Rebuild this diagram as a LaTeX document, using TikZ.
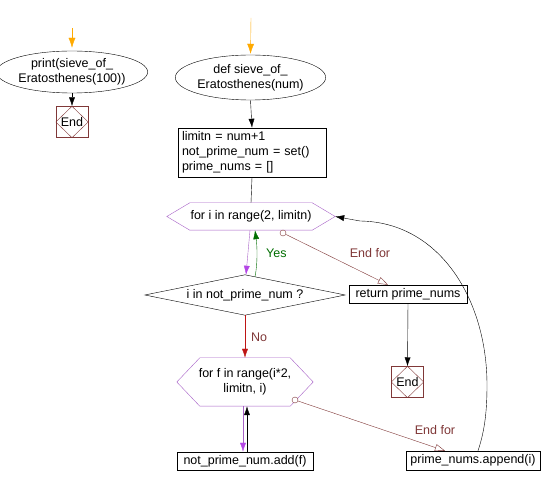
\documentclass[tikz,border=0pt]{standalone}
\usepackage{fontspec}
\setmainfont{Liberation Sans}
\usetikzlibrary{arrows.meta,shapes.geometric}
\definecolor{hexcol}{RGB}{168,98,200}
\definecolor{purparrow}{RGB}{180,70,230}
\definecolor{browncol}{RGB}{128,56,56}
\definecolor{nocol}{RGB}{190,20,20}
\definecolor{greencol}{RGB}{0,110,0}
\definecolor{orangecol}{RGB}{255,170,0}
\begin{document}
\begin{tikzpicture}[x=1pt,y=-1pt,
  txt/.style={font=\fontsize{12.5}{15}\selectfont, text=black},
  stmt/.style={draw=black, rectangle, inner sep=0pt, txt},
  oval/.style={draw=black, ellipse, inner sep=0pt, txt, align=center},
  hexnode/.style={rectangle, inner sep=0pt, txt, align=center},
  endbox/.style={draw=browncol, rectangle, inner sep=0pt, minimum width=32pt, minimum height=31pt, txt},
  blackarrow/.style={draw=black, -{Latex[length=9pt,width=6pt]}},
  orangearrow/.style={draw=orangecol, -{Latex[length=10pt,width=7pt]}},
  purparr/.style={draw=hexcol, -{Latex[length=9pt,width=6pt,color=purparrow]}},
  greenarr/.style={draw=greencol, -{Latex[length=9pt,width=6pt]}},
  noarr/.style={draw=nocol, -{Latex[length=9pt,width=6pt]}},
  endfor/.style={draw=browncol, -{Triangle[open,length=10pt,width=7pt]}},
  lbl/.style={font=\fontsize{12.5}{15}\selectfont, inner sep=0pt},
  smallcirc/.style={circle, draw=browncol, fill=white, inner sep=0pt, minimum size=6pt}
]
\useasboundingbox (0,0) rectangle (547,486);
\fill[white] (0,0) rectangle (547,486);

% left part
\coordinate (s1) at (72,28);
\node[oval, minimum width=134pt, minimum height=42pt] (e1) at (72,72) {print(sieve\_of\_\\Eratosthenes(100))};
\node[endbox] (end1) at (72,122) {End};
\draw[browncol] (end1.west) -- (end1.north) -- (end1.east) -- (end1.south) -- cycle;
\draw[orangearrow, shorten >=3pt] (s1) -- (e1.north);
\draw[blackarrow] (e1.south) -- (end1.north);

% main function
\coordinate (s2) at (251,18);
\node[oval, minimum width=135pt, minimum height=45pt] (e2) at (250.5,77.5) {def sieve\_of\_\\Eratosthenes(num)};
\node[stmt, minimum width=148pt, minimum height=49pt, align=left, text width=140pt] (init) at (252,152.5)
  {limitn = num+1\\not\_prime\_num = set()\\prime\_nums = []};
\draw[orangearrow, shorten >=1pt] (s2) -- (e2.north);
\draw[blackarrow] (e2.south) -- (init.north);

% for i loop
\node[hexnode, minimum width=168pt, minimum height=27pt] (h1) at (251,216.5) {for i in range(2, limitn)};
\draw[hexcol] (h1.west) -- ([xshift=23pt]h1.north west) -- ([xshift=-23pt]h1.north east) -- (h1.east)
  -- ([xshift=-23pt]h1.south east) -- ([xshift=23pt]h1.south west) -- cycle;
\draw[black] (init.south) -- (h1.north);

% decision
\node[hexnode, minimum width=200pt, minimum height=40pt] (dia) at (245,295) {i in not\_prime\_num ?};
\draw[black] (dia.west) -- (dia.north) -- (dia.east) -- (dia.south) -- cycle;
\draw[purparr] ([xshift=-1pt]h1.south) -- ([xshift=1pt]dia.north);
\draw[greenarr] ([xshift=10pt,yshift=-2pt]dia.north) .. controls (258,262) and (257,245) .. ([xshift=4pt]h1.south);
\node[lbl, text=greencol, anchor=west] (yes) at (266,253) {Yes};

% end for (outer)
\node[stmt, minimum width=118pt, minimum height=18pt] (ret) at (408,294) {return prime\_nums};
\node[smallcirc] (c1) at (283,233) {};
\draw[endfor] (c1) -- ([xshift=-20pt]ret.north);
\node[lbl, text=browncol] (ef1) at (370,253) {End for};
\node[endbox] (end2) at (407.5,382) {End};
\draw[browncol] (end2.west) -- (end2.north) -- (end2.east) -- (end2.south) -- cycle;
\draw[blackarrow] (ret.south) -- (end2.north);

% No branch
\node[hexnode, minimum width=136pt, minimum height=48pt] (h2) at (245,382) {for f in range(i*2,\\limitn, i)};
\draw[hexcol] (h2.west) -- ([xshift=23pt]h2.north west) -- ([xshift=-23pt]h2.north east) -- (h2.east)
  -- ([xshift=-23pt]h2.south east) -- ([xshift=23pt]h2.south west) -- cycle;
\draw[noarr] (dia.south) -- (h2.north);
\node[lbl, text=browncol, anchor=west] (no) at (251,337) {No};

\node[stmt, minimum width=136pt, minimum height=18pt] (add) at (245,461) {not\_prime\_num.add(f)};
\draw[purparr] ([xshift=-2pt]h2.south) -- ([xshift=-2pt]add.north);
\draw[blackarrow] ([xshift=2pt]add.north) -- ([xshift=2pt]h2.south);

\node[stmt, minimum width=134pt, minimum height=19pt] (ap) at (473,460.5) {prime\_nums.append(i)};
\node[smallcirc] (c2) at (295,400) {};
\draw[endfor] (c2) -- ([xshift=-28pt]ap.north);
\node[lbl, text=browncol] (ef2) at (435,430) {End for};

% loop back
\draw[blackarrow] ([xshift=5pt]ap.north) .. controls (485,430) and (487,410) .. (487,385)
  .. controls (487,300) and (440,222) .. (360,221) -- (h1.east);
\end{tikzpicture}
\end{document}
